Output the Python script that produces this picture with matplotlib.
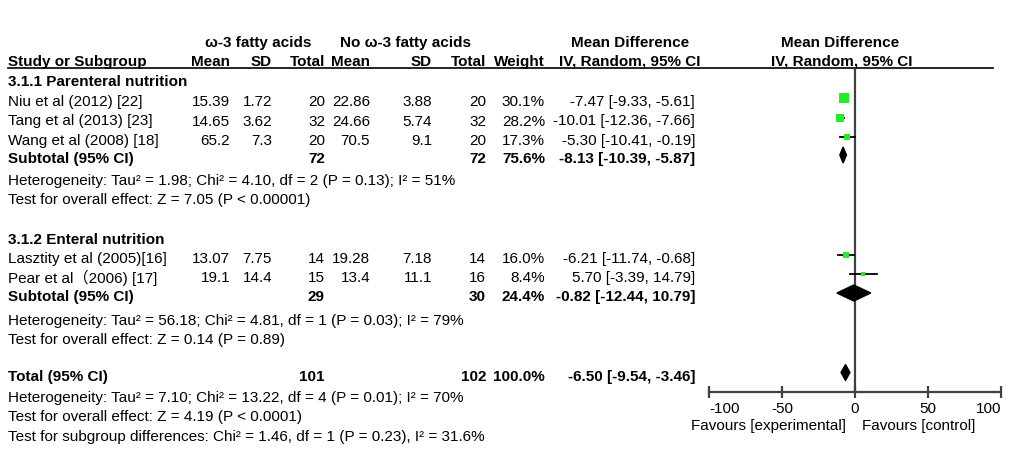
import matplotlib
matplotlib.use("Agg")
import matplotlib.pyplot as plt
from matplotlib.patches import Polygon

plt.rcParams['font.family'] = ['Liberation Sans', 'Noto Sans CJK SC', 'DejaVu Sans']

# ---------------- data ----------------
groups = ["3.1.1 Parenteral nutrition", "3.1.2 Enteral nutrition"]
studies = ["Niu et al (2012) [22]", "Tang et al (2013) [23]", "Wang et al (2008) [18]",
           "Lasztity et al (2005)[16]", "Pear et al\uff082006) [17]"]
study_group = [0, 0, 0, 1, 1]
exp_mean = [15.39, 14.65, 65.2, 13.07, 19.1]
exp_sd = [1.72, 3.62, 7.3, 7.75, 14.4]
exp_n = [20, 32, 20, 14, 15]
ctl_mean = [22.86, 24.66, 70.5, 19.28, 13.4]
ctl_sd = [3.88, 5.74, 9.1, 7.18, 11.1]
ctl_n = [20, 32, 20, 14, 16]
weight = [30.1, 28.2, 17.3, 16.0, 8.4]
md = [-7.47, -10.01, -5.30, -6.21, 5.70]
ci_lo = [-9.33, -12.36, -10.41, -11.74, -3.39]
ci_hi = [-5.61, -7.66, -0.19, -0.68, 14.79]

sub_exp_n = [72, 29]
sub_ctl_n = [72, 30]
sub_weight = [75.6, 24.4]
sub_md = [-8.13, -0.82]
sub_lo = [-10.39, -12.44]
sub_hi = [-5.87, 10.79]
sub_het = ["Heterogeneity: Tau\u00b2 = 1.98; Chi\u00b2 = 4.10, df = 2 (P = 0.13); I\u00b2 = 51%",
           "Heterogeneity: Tau\u00b2 = 56.18; Chi\u00b2 = 4.81, df = 1 (P = 0.03); I\u00b2 = 79%"]
sub_test = ["Test for overall effect: Z = 7.05 (P < 0.00001)",
            "Test for overall effect: Z = 0.14 (P = 0.89)"]

total_exp_n = 101
total_ctl_n = 102
total_weight = 100.0
total_md = -6.50
total_lo = -9.54
total_hi = -3.46
total_notes = ["Heterogeneity: Tau\u00b2 = 7.10; Chi\u00b2 = 13.22, df = 4 (P = 0.01); I\u00b2 = 70%",
               "Test for overall effect: Z = 4.19 (P < 0.0001)",
               "Test for subgroup differences: Chi\u00b2 = 1.46, df = 1 (P = 0.23), I\u00b2 = 31.6%"]

x_ticks = [-100, -50, 0, 50, 100]
favours = ["Favours [experimental]", "Favours [control]"]

# ---------------- layout (pixel rows) ----------------
W, H = 1024, 452
FS = 11
TXT_DY = 2.0
group_title_y = [80, 238]
study_y = [100, 119.5, 139, 257, 276]
sub_y = [157, 295]
sub_het_y = [[179, 198], [319, 338]]
total_y = 375
total_notes_y = [396, 415, 435]

col_x = dict(mean1=230, sd1=272, n1=325, mean2=370, sd2=432, n2=486, w=545, md=695)
md_head_x = 630
plot_left, plot_right = 709, 1001
axis_y = 393
header_line_y = 69
green = '#22ee22'
line_col = '#404040'

fig = plt.figure(figsize=(W / 100, H / 100), dpi=100)
ax = fig.add_axes([0, 0, 1, 1])
ax.set_xlim(0, W)
ax.set_ylim(H, 0)
ax.axis('off')


def txt(x, y, s, ha='left', bold=False, **kw):
    ax.text(x, y + TXT_DY, s, ha=ha, va='center', fontsize=FS,
            fontweight='bold' if bold else 'normal', color='black', **kw)


# headers
txt(258, 41, "\u03c9-3 fatty acids", ha='center', bold=True)
txt(405, 41, "No \u03c9-3 fatty acids", ha='center', bold=True)
txt(md_head_x, 41, "Mean Difference", ha='center', bold=True)
txt(840, 41, "Mean Difference", ha='center', bold=True)
txt(8, 60, "Study or Subgroup", bold=True)
for key, lab in [('mean1', 'Mean'), ('sd1', 'SD'), ('n1', 'Total'), ('mean2', 'Mean'),
                 ('sd2', 'SD'), ('n2', 'Total'), ('w', 'Weight')]:
    txt(col_x[key], 60, lab, ha='right', bold=True)
txt(md_head_x, 60, "IV, Random, 95% CI", ha='center', bold=True)
txt(842, 60, "IV, Random, 95% CI", ha='center', bold=True)
ax.plot([8, 993], [header_line_y, header_line_y], color='black', lw=1.2)

# forest axes
fax = fig.add_axes([plot_left / W, 1 - axis_y / H, (plot_right - plot_left) / W,
                    (axis_y - header_line_y) / H])
fax.set_xlim(-100, 100)
fax.set_ylim(axis_y, header_line_y)
fax.patch.set_alpha(0)
for sp in ['top', 'left', 'right']:
    fax.spines[sp].set_visible(False)
fax.spines['bottom'].set_color(line_col)
fax.spines['bottom'].set_linewidth(1.6)
fax.set_yticks([])
fax.set_xticks(x_ticks)
fax.set_xticklabels([str(t) for t in x_ticks], fontsize=FS)
labels = fax.get_xticklabels()
labels[0].set_horizontalalignment('left')
labels[-1].set_horizontalalignment('right')
fax.tick_params(axis='x', direction='inout', length=9, width=1.6, color=line_col, pad=2)
fax.axvline(0, color=line_col, lw=1.6, zorder=1)


def diamond(m, lo, hi, y, h=8):
    fax.add_patch(Polygon([(lo, y), (m, y - h), (hi, y), (m, y + h)], closed=True,
                          facecolor='black', edgecolor='black', zorder=3))


for g in range(len(groups)):
    txt(8, group_title_y[g], groups[g], bold=True)
    for i in range(len(studies)):
        if study_group[i] != g:
            continue
        y = study_y[i]
        txt(8, y, studies[i])
        txt(col_x['mean1'], y, f"{exp_mean[i]:g}", ha='right')
        txt(col_x['sd1'], y, f"{exp_sd[i]:g}", ha='right')
        txt(col_x['n1'], y, f"{exp_n[i]}", ha='right')
        txt(col_x['mean2'], y, f"{ctl_mean[i]:g}", ha='right')
        txt(col_x['sd2'], y, f"{ctl_sd[i]:g}", ha='right')
        txt(col_x['n2'], y, f"{ctl_n[i]}", ha='right')
        txt(col_x['w'], y, f"{weight[i]:.1f}%", ha='right')
        txt(col_x['md'], y, f"{md[i]:.2f} [{ci_lo[i]:.2f}, {ci_hi[i]:.2f}]", ha='right')
        fax.plot([ci_lo[i], ci_hi[i]], [y - 1, y - 1], color='black', lw=1.3, zorder=2)
        side = 1.65 * weight[i] ** 0.5 * 0.72
        fax.scatter([md[i]], [y - 1], marker='s', s=side ** 2, color=green, zorder=4,
                    linewidths=0)
    y = sub_y[g]
    txt(8, y, "Subtotal (95% CI)", bold=True)
    txt(col_x['n1'], y, f"{sub_exp_n[g]}", ha='right', bold=True)
    txt(col_x['n2'], y, f"{sub_ctl_n[g]}", ha='right', bold=True)
    txt(col_x['w'], y, f"{sub_weight[g]:.1f}%", ha='right', bold=True)
    txt(col_x['md'], y, f"{sub_md[g]:.2f} [{sub_lo[g]:.2f}, {sub_hi[g]:.2f}]", ha='right', bold=True)
    diamond(sub_md[g], sub_lo[g], sub_hi[g], y - 1)
    txt(8, sub_het_y[g][0], sub_het[g])
    txt(8, sub_het_y[g][1], sub_test[g])

txt(8, total_y, "Total (95% CI)", bold=True)
txt(col_x['n1'], total_y, f"{total_exp_n}", ha='right', bold=True)
txt(col_x['n2'], total_y, f"{total_ctl_n}", ha='right', bold=True)
txt(col_x['w'], total_y, f"{total_weight:.1f}%", ha='right', bold=True)
txt(col_x['md'], total_y, f"{total_md:.2f} [{total_lo:.2f}, {total_hi:.2f}]", ha='right', bold=True)
diamond(total_md, total_lo, total_hi, total_y - 1.5)
for s, y in zip(total_notes, total_notes_y):
    txt(8, y, s)

txt(846, 424, favours[0], ha='right')
txt(862, 424, favours[1], ha='left')

fig.savefig("out.png", dpi=100)
